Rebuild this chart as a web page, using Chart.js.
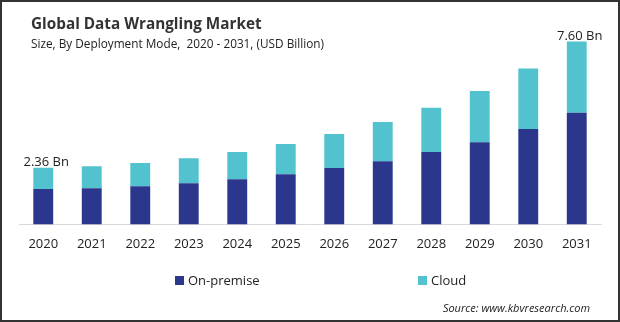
<!DOCTYPE html>
<html>
<head>
<meta charset="utf-8">
<script src="https://cdn.jsdelivr.net/npm/chart.js@4/dist/chart.umd.min.js"></script>
<style>
  body { margin: 0; background: #fff; font-family: "Open Sans", sans-serif; }
  #box { position: relative; width: 620px; height: 322px; box-sizing: border-box; border: 2px solid #333; overflow: hidden; }
  #chart { position: absolute; left: -2px; top: -2px; }
  .title { position: absolute; left: 29px; top: 11px; font-size: 15.3px; font-weight: bold; color: #333; }
  .sub { position: absolute; left: 29px; top: 33px; font-size: 11.8px; color: #222; white-space: pre; }
  .legend { position: absolute; top: 269px; font-size: 13px; color: #222; }
  .legend i { display: inline-block; width: 9px; height: 9px; margin-right: 4px; }
  .source { position: absolute; right: 28px; top: 298px; font-size: 11px; font-style: italic; color: #222; }
</style>
</head>
<body>
<div id="box">
  <canvas id="chart" width="620" height="322"></canvas>
  <div class="title">Global Data Wrangling Market</div>
  <div class="sub">Size, By Deployment Mode,  2020 - 2031, (USD Billion)</div>
  <div class="legend" style="left:173px"><i style="background:#2b378c"></i>On-premise</div>
  <div class="legend" style="left:416px"><i style="background:#52c3ce"></i>Cloud</div>
  <div class="source">Source: www.kbvresearch.com</div>
</div>
<script>
const years = ['2020', '2021', '2022', '2023', '2024', '2025', '2026', '2027', '2028', '2029', '2030', '2031'];
const onPremise = [1.47, 1.50, 1.59, 1.71, 1.88, 2.09, 2.34, 2.63, 3.01, 3.42, 3.97, 4.64];
const cloud = [0.89, 0.92, 0.96, 1.04, 1.13, 1.25, 1.42, 1.63, 1.84, 2.13, 2.51, 2.96];
// only first and last totals are labelled in the picture
const totalLabels = ['2.36 Bn', '', '', '', '', '', '', '', '', '', '', '7.60 Bn'];

// draws the total labels above the stacked bars
const totalsPlugin = {
    id: 'totals',
    afterDatasetsDraw(chart) {
        const ctx = chart.ctx;
        const meta = chart.getDatasetMeta(1);
        ctx.save();
        ctx.font = '13px "Open Sans"';
        ctx.fillStyle = '#222';
        ctx.textAlign = 'center';
        ctx.textBaseline = 'bottom';
        meta.data.forEach((bar, i) => {
            if (totalLabels[i]) ctx.fillText(totalLabels[i], bar.x + 3, bar.y + 1);
        });
        ctx.restore();
    }
};

new Chart(document.getElementById('chart'), {
    type: 'bar',
    data: {
        labels: years,
        datasets: [
            { label: 'On-premise', data: onPremise, backgroundColor: '#2b378c' },
            { label: 'Cloud', data: cloud, backgroundColor: '#52c3ce' }
        ]
    },
    options: {
        responsive: false,
        animation: false,
        layout: { padding: { left: 19, right: 19, top: 32, bottom: 58 } },
        datasets: { bar: { barPercentage: 1, categoryPercentage: 0.41 } },
        plugins: { legend: { display: false }, tooltip: { enabled: false } },
        scales: {
            x: {
                stacked: true,
                grid: { display: false, drawTicks: false },
                border: { display: true, color: '#d9d9d9' },
                ticks: { color: '#222', font: { family: 'Open Sans', size: 13 }, padding: 12 }
            },
            y: {
                stacked: true,
                display: false,
                min: 0,
                max: 8
            }
        }
    },
    plugins: [totalsPlugin]
});
</script>
</body>
</html>
